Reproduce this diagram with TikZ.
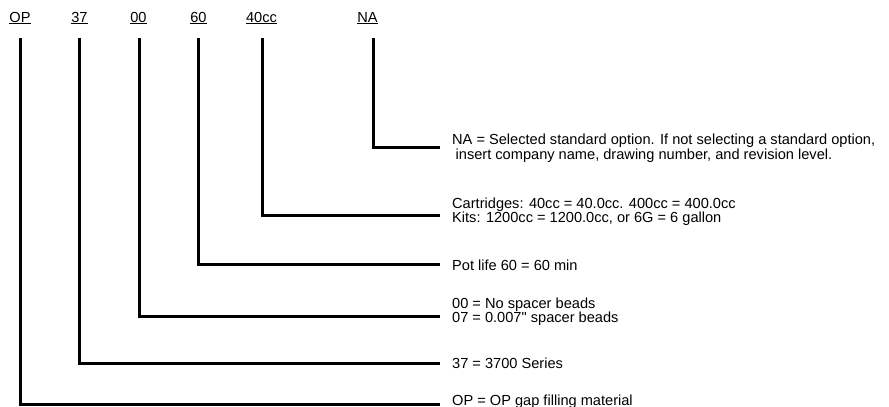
\documentclass[tikz,border=0pt]{standalone}
\usepackage{fontspec}
\newfontfamily\arialfam{Liberation Sans}
\begin{document}
\begin{tikzpicture}[x=1pt,y=-1pt,
  every node/.style={font=\arialfam\fontsize{14.6}{16}\selectfont, inner sep=0pt},
  code/.style={anchor=base},
  desc/.style={anchor=base west},
  lead/.style={line width=3pt}]
\useasboundingbox (0,0) rectangle (889,407);
% code labels
\node[code] (cOP) at (20,22) {\underline{OP}};
\node[code] (c37) at (79.5,22) {\underline{37}};
\node[code] (c00) at (138.5,22) {\underline{00}};
\node[code] (c60) at (198.5,22) {\underline{60}};
\node[code] (c40) at (261.5,22) {\underline{40cc}};
\node[code] (cNA) at (367.5,22) {\underline{NA}};
% start points of leaders
\coordinate (sOP) at (20,38);
\coordinate (s37) at (79,38);
\coordinate (s00) at (139,38);
\coordinate (s60) at (198,38);
\coordinate (s40) at (262,38);
\coordinate (sNA) at (373,38);
% end points of leaders
\coordinate (eNA) at (440,147);
\coordinate (e40) at (440,215);
\coordinate (e60) at (440,264.5);
\coordinate (e00) at (440,316);
\coordinate (e37) at (440,363);
\coordinate (eOP) at (440,404);
% descriptions
\node[desc] (dNAa) at (452,144) {NA = Selected standard option. If not selecting a standard option,};
\node[desc] (dNAb) at (452,159) {\hspace{3.5pt}insert company name, drawing number, and revision level.};
\node[desc] (d40a) at (452,208) {Cartridges: 40cc = 40.0cc. 400cc = 400.0cc};
\node[desc] (d40b) at (452,222) {Kits: 1200cc = 1200.0cc, or 6G = 6 gallon};
\node[desc] (d60) at (452,270) {Pot life 60 = 60 min};
\node[desc] (d00a) at (452,308) {00 = No spacer beads};
\node[desc] (d00b) at (452,322) {07 = 0.007" spacer beads};
\node[desc] (d37) at (452,368) {37 = 3700 Series};
\node[desc] (dOP) at (452,405) {OP = OP gap filling material};
% leaders
\draw[lead] (sNA) |- (eNA);
\draw[lead] (s40) |- (e40);
\draw[lead] (s60) |- (e60);
\draw[lead] (s00) |- (e00);
\draw[lead] (s37) |- (e37);
\draw[lead] (sOP) |- (eOP);
\end{tikzpicture}
\end{document}
